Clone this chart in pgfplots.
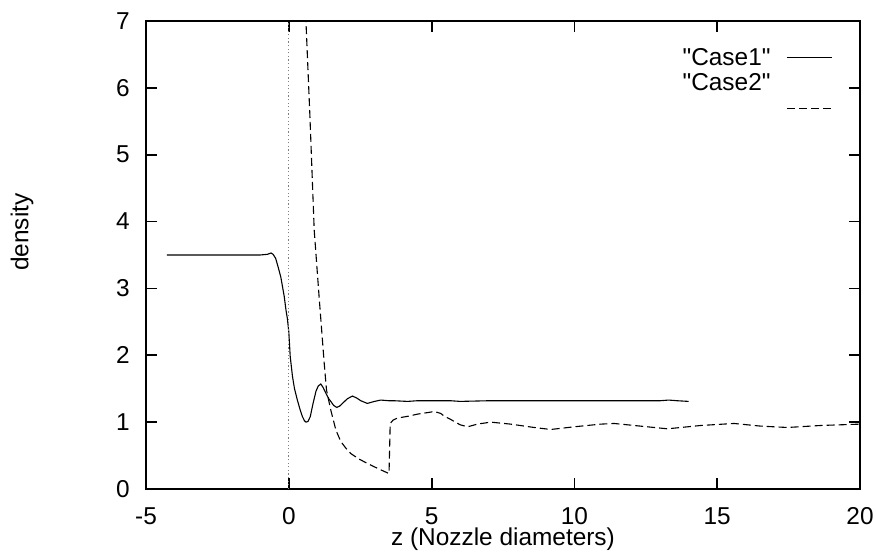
\documentclass[border=0pt]{standalone}
\usepackage{fontspec}
\setmainfont{Liberation Sans}
\newfontfamily\qf{Liberation Sans}
\usepackage{pgfplots}
\pgfplotsset{compat=1.18}
\newcommand{\fs}{\fontsize{12.2}{14}\selectfont}
\newcommand{\q}{{\qf\char34}}
\pgfplotsset{
    legone/.style={legend image code/.code={\draw[##1] (0pt,1.2pt) -- (22.5pt,1.2pt);}},
    legtwo/.style={legend image code/.code={\path[draw=none,fill=none] (0pt,0pt) -- (22.5pt,0pt);
        \draw[##1,overlay] (0pt,-11.8pt) -- (22.5pt,-11.8pt);}},
}

\begin{document}
\begin{tikzpicture}
\begin{axis}[
    name=ax,
    scale only axis,
    width=357pt, height=234pt,
    xmin=-5, xmax=20, ymin=0, ymax=7,
    xtick={-5,0,5,10,15,20},
    ytick={0,1,2,3,4,5,6,7},
    xtick pos=both, ytick pos=both,
    tick align=inside,
    major tick length=5.5pt,
    every tick/.style={black, line width=0.9pt},
    axis line style={line width=1.1pt},
    /pgf/number format/assume math mode=true,
    tick label style={font=\fs, inner sep=0pt},
    xticklabel style={yshift=-9pt},
    yticklabel style={xshift=-8pt},
    label style={font=\fs},
    xlabel={z (Nozzle diameters)},
    xlabel style={at={([yshift=-28.5pt]axis description cs:0.5,0)}, anchor=base, inner sep=0pt},
    ylabel={density},
    ylabel style={at={([xshift=-62pt]axis description cs:0,0.549)}, anchor=center},
    legend plot pos=right,
    legend cell align=right,
    legend style={draw=none, fill=none, font=\fs,
        at={(axis description cs:1,1)}, anchor=north east,
        xshift=-13.5pt, yshift=-12.8pt,
        inner xsep=0pt, inner ysep=0pt,
        row sep=0pt, column sep=8pt,
        nodes={inner sep=0pt, text height=9.2pt, text depth=3.3pt}},
]
\addplot[black, line width=0.55pt, legone]
coordinates {
(-4.27,3.50) (-3,3.50) (-2,3.50) (-1,3.50) (-0.75,3.51) (-0.62,3.53) (-0.55,3.51)
(-0.46,3.45) (-0.38,3.33) (-0.28,3.17) (-0.16,2.88) (-0.1,2.68) (-0.05,2.55)
(0.0,2.35) (0.05,1.98) (0.13,1.68) (0.2,1.50) (0.3,1.33) (0.4,1.18) (0.48,1.08)
(0.55,1.02) (0.6,1.00) (0.67,1.01) (0.75,1.08) (0.85,1.28) (0.95,1.46) (1.03,1.54)
(1.12,1.57) (1.2,1.52) (1.3,1.43) (1.4,1.35) (1.47,1.31) (1.57,1.25) (1.68,1.22)
(1.78,1.24) (1.88,1.28) (2.05,1.35) (2.23,1.39) (2.38,1.36) (2.52,1.32) (2.75,1.28)
(3.0,1.31) (3.22,1.33) (3.5,1.32) (3.69,1.32) (4.16,1.31) (4.5,1.32) (4.86,1.32)
(5.67,1.32) (6,1.31) (7,1.32) (8,1.32) (9,1.32) (10,1.32) (11,1.32) (12,1.32)
(13,1.32) (13.3,1.33) (13.6,1.32) (14,1.31)
};
\addlegendentry{\q Case1\q}
\addplot[black, line width=0.55pt, dash pattern=on 4pt off 2pt, legtwo]
coordinates {
(0.5,8.0) (0.6,7.0) (0.74,5.57) (0.89,3.87) (1.06,2.88) (1.24,1.88) (1.32,1.48)
(1.47,1.18) (1.65,0.88) (1.82,0.71) (2.0,0.61) (2.17,0.53) (2.45,0.45) (2.76,0.38)
(3.1,0.31) (3.51,0.23) (3.55,0.98) (3.65,1.03) (3.8,1.06) (4.2,1.09) (4.51,1.12)
(4.97,1.15) (5.09,1.16) (5.32,1.13) (5.44,1.09) (5.67,1.04) (5.79,1.01) (6.0,0.96)
(6.26,0.93) (6.6,0.97) (7.07,1.00) (7.77,0.97) (8.59,0.92) (9.17,0.89) (9.99,0.93)
(10.92,0.97) (11.39,0.98) (12.32,0.94) (13.26,0.90) (14.43,0.95) (15.59,0.98)
(16.53,0.94) (17.46,0.92) (18.63,0.95) (20,0.97)
};
\addlegendentry{\q Case2\q}
\addplot[gray, line width=0.6pt, dash pattern=on 0.6pt off 1.2pt, forget plot]
coordinates {(0,0) (0,7)};
\end{axis}
\path ([xshift=-73pt,yshift=-31.5pt]ax.south west) rectangle ([xshift=8pt,yshift=10.5pt]ax.north east);
\end{tikzpicture}
\end{document}
